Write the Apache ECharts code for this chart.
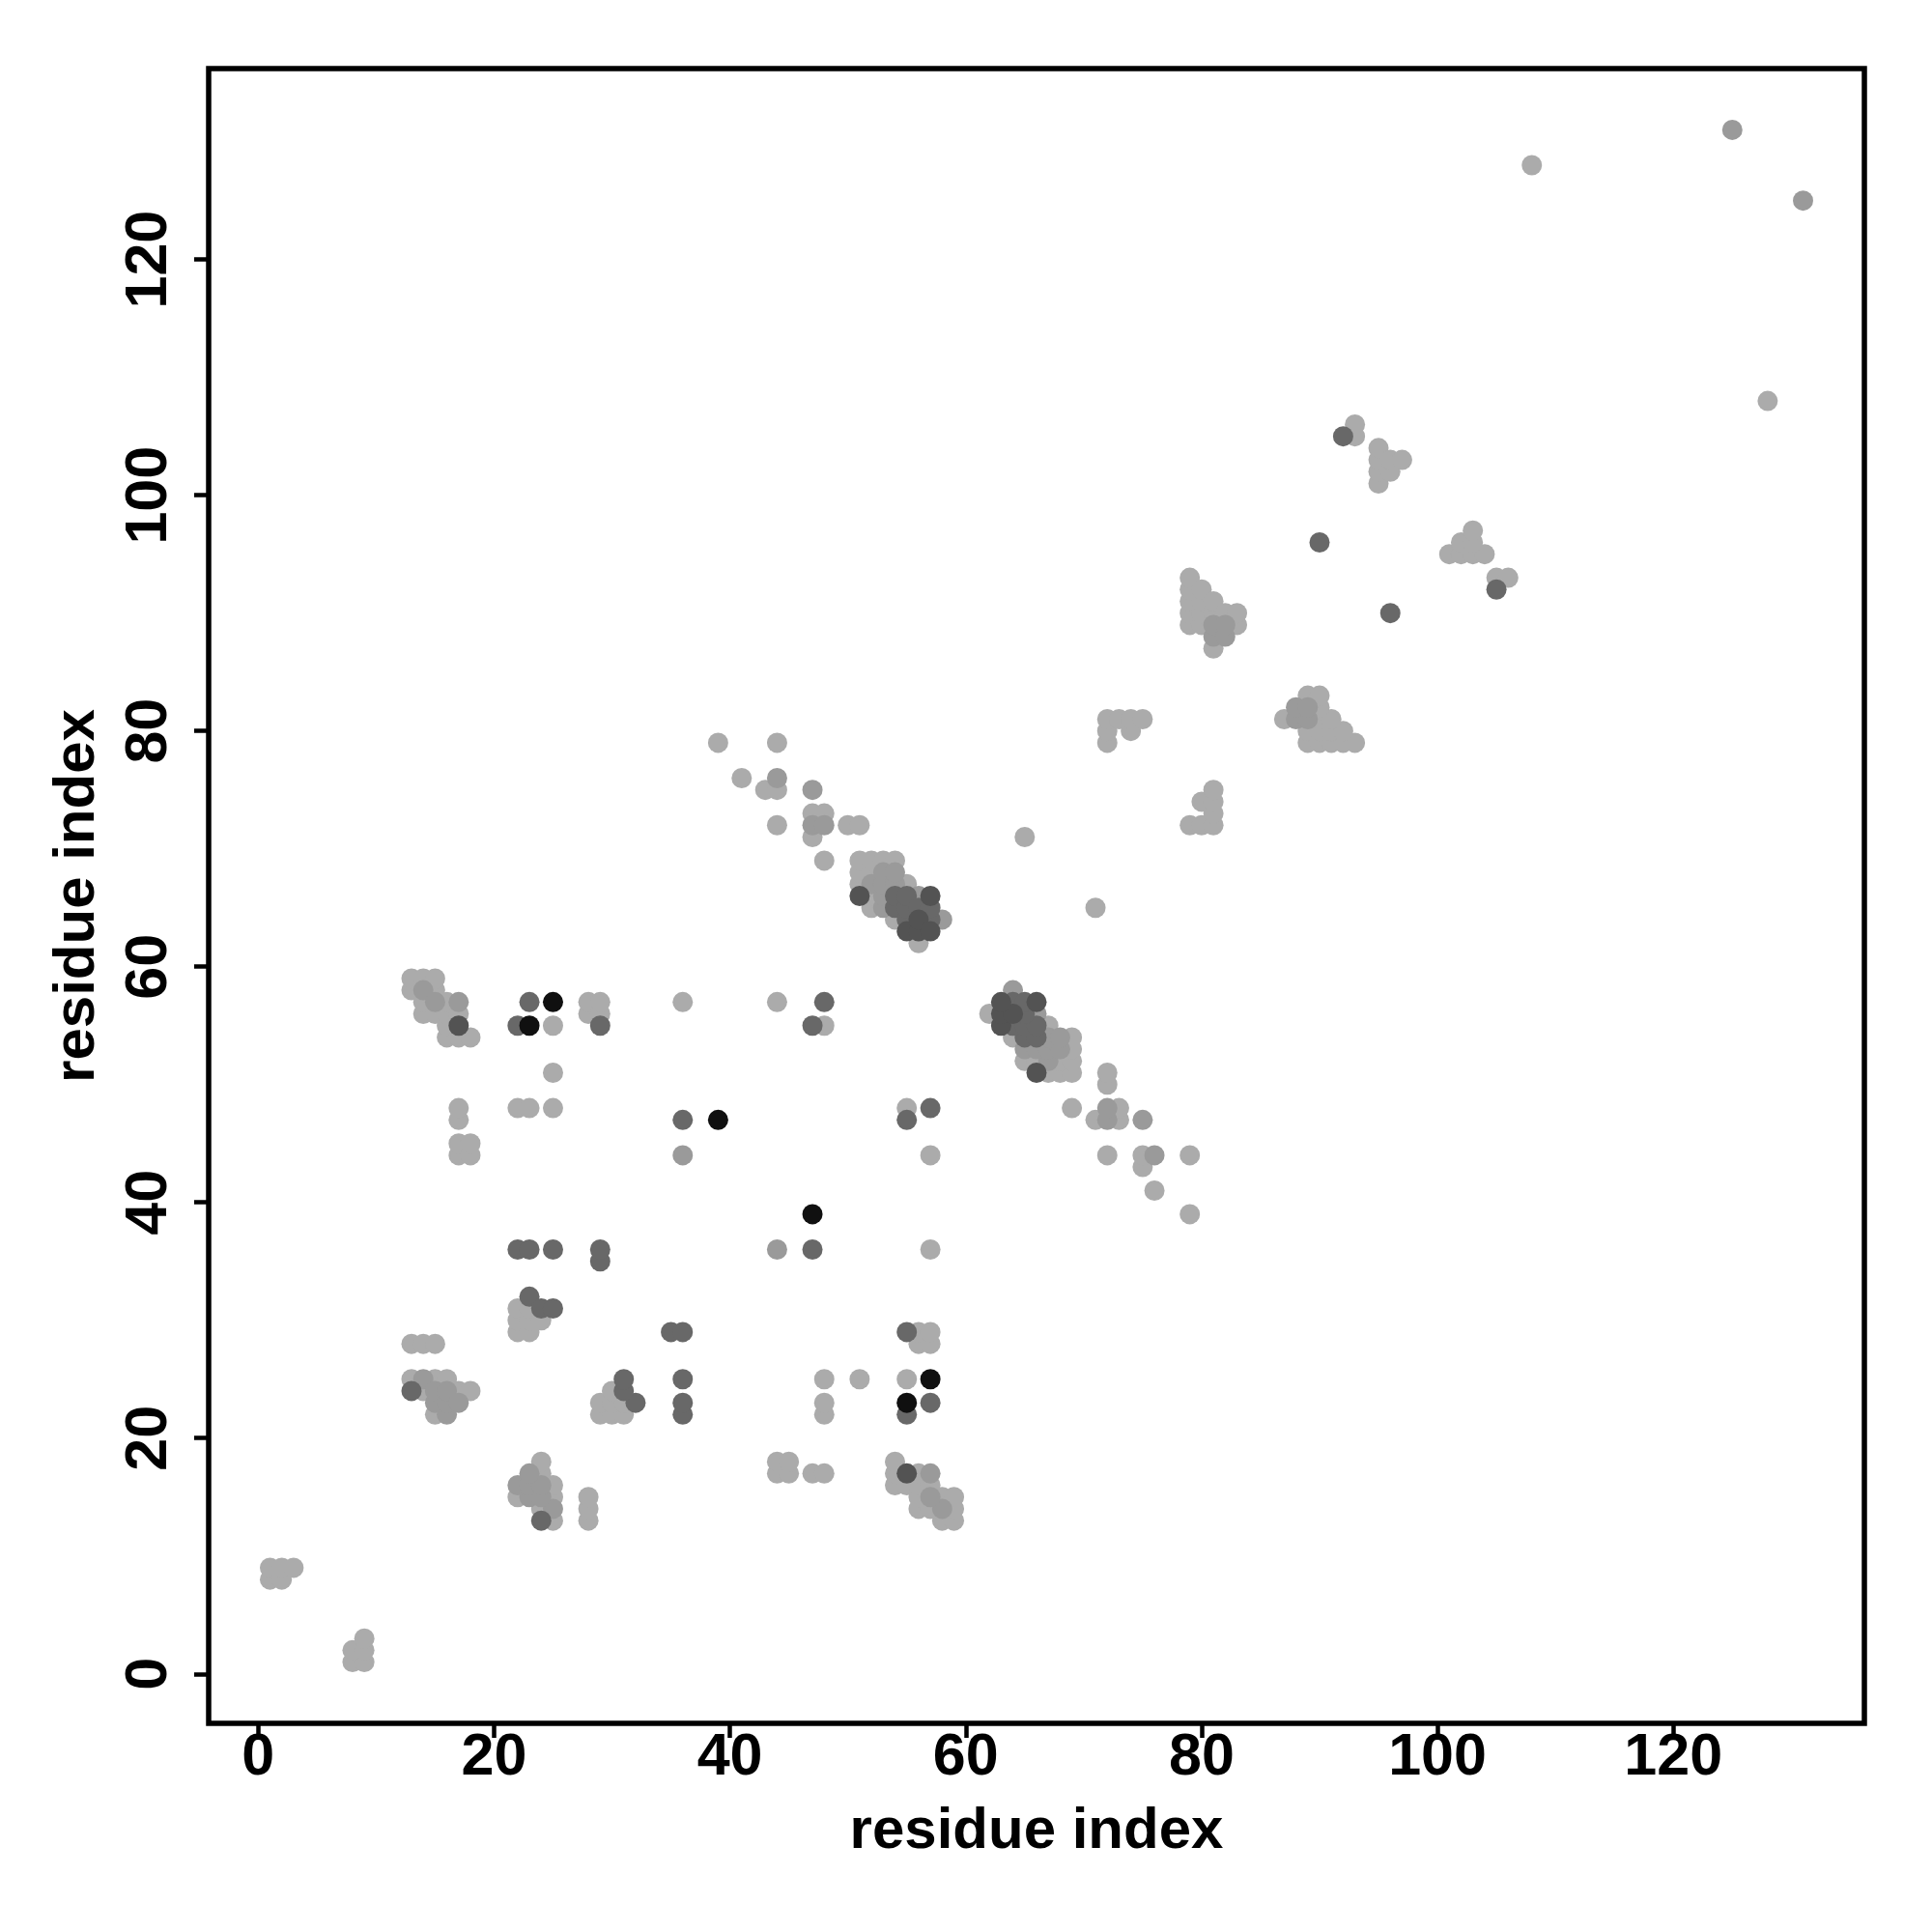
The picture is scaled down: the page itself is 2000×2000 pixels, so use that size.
<!DOCTYPE html>
<html>
<head>
<meta charset="utf-8">
<script src="https://cdn.jsdelivr.net/npm/echarts@6/dist/echarts.min.js"></script>
<style>
html,body{margin:0;padding:0;background:#fff;}
#chart{width:2000px;height:2000px;}
</style>
</head>
<body>
<div id="chart"></div>
<script>
// Contact pairs (i < j); the map is symmetric, each pair is drawn at (i,j) and (j,i)
const contactI = [
  1,1,2,2,3,
  13,13,13,14,14,14,15,15,15,15,15,16,16,16,16,17,17,18,
  13,13,14,14,14,14,15,15,15,15,16,16,16,16,17,17,17,17,18,
  17,17,17,17,18,18,
  22,22,22,23,23,23,24,23,24,25,22,23,25,
  22,23,25,25,22,23,25,23,25,
  28,28,29,29,29,29,29,
  36,36,36,39,44,47,48,48,
  39,41,43,44,44,44,44,47,47,47,47,48,48,48,50,51,
  51,51,51,51,52,52,52,52,52,53,53,53,53,53,54,54,54,54,54,54,55,55,55,55,55,56,56,56,56,56,57,57,57,57,58,
  65,72,72,72,73,74,74,75,
  79,79,79,79,79,80,80,80,80,81,81,81,81,81,82,82,82,83,83,
  90,92,93,93,95,95,95,95,96,96,97,
  108,125
];
const contactJ = [
  8,9,8,9,9,
  24,25,28,24,25,28,22,23,24,25,28,22,23,24,25,23,24,24,
  58,59,56,57,58,59,56,57,58,59,54,55,56,57,54,55,56,57,54,
  44,45,47,48,44,45,
  29,30,31,29,30,31,30,32,31,31,36,36,36,
  48,48,48,51,55,55,55,57,57,
  56,57,56,57,55,35,36,
  44,47,57,47,57,55,55,57,
  79,76,75,72,75,76,79,71,72,73,75,69,72,73,72,72,
  66,67,68,69,65,66,67,68,69,65,66,67,68,69,64,65,66,67,68,69,63,64,65,66,67,62,63,64,65,66,63,64,65,66,64,
  71,79,80,81,81,80,81,81,
  89,90,91,92,93,89,90,91,92,87,88,89,90,91,88,89,90,89,90,
  96,105,105,106,101,102,103,104,102,103,103,
  128,131
];
// grey level of each contact: 0 lightest ... 4 black
const contactLevel = [
  0,0,0,0,0,
  2,0,0,0,1,0,0,1,1,0,0,1,1,1,0,1,0,0,
  0,0,0,0,1,0,0,1,0,0,0,0,0,0,0,3,0,1,0,
  0,0,0,0,0,0,
  0,0,0,0,0,0,0,2,2,2,2,2,2,
  0,0,0,0,2,4,0,2,4,
  0,0,0,0,2,2,2,
  1,2,0,4,0,2,0,2,
  0,0,0,0,0,1,0,0,1,0,1,0,1,0,0,0,
  3,0,0,0,0,0,1,0,0,1,1,1,1,0,0,2,2,1,1,0,3,2,2,2,0,0,3,3,2,1,3,2,2,3,1,
  0,0,0,0,0,0,0,0,
  0,0,0,0,0,0,0,0,0,0,1,1,0,0,1,1,0,0,0,
  2,2,0,0,0,0,0,0,0,0,0,
  0,1
];
const levelColors = ['#ababab', '#9a9a9a', '#686868', '#535353', '#101010'];
const tickValues = [0, 20, 40, 60, 80, 100, 120];
const axisTitle = 'residue index';

const seriesList = levelColors.map(function (col, lv) {
  const pts = [];
  for (let k = 0; k < contactI.length; k++) {
    if (contactLevel[k] !== lv) continue;
    pts.push([contactI[k], contactJ[k]]);
    pts.push([contactJ[k], contactI[k]]);
  }
  return {
    type: 'scatter',
    data: pts,
    symbol: 'circle',
    symbolSize: 21,
    itemStyle: { color: col, opacity: 1 },
    emphasis: { disabled: true },
    z: 2 + lv,
    animation: false
  };
});

const font = 'Liberation Sans, Arial, Helvetica, sans-serif';
function makeAxis(isY) {
  return {
    type: 'value',
    min: -4.2,
    max: 136.2,
    axisLine: { show: false, onZero: false },
    splitLine: { show: false },
    axisTick: {
      show: true,
      inside: false,
      customValues: tickValues,
      length: 15,
      lineStyle: { color: '#000', width: 4.5 }
    },
    axisLabel: {
      customValues: tickValues,
      fontSize: 61,
      fontWeight: 'bold',
      fontFamily: font,
      color: '#000',
      margin: isY ? 30 : 6,
      rotate: isY ? 90 : 0
    },
    name: axisTitle,
    nameLocation: 'middle',
    nameGap: isY ? 106 : 82,
    nameRotate: isY ? 90 : 0,
    nameTextStyle: {
      fontSize: 60,
      fontWeight: 'bold',
      fontFamily: font,
      color: '#000'
    }
  };
}

const chart = echarts.init(document.getElementById('chart'), null, { renderer: 'canvas' });
chart.setOption({
  backgroundColor: '#ffffff',
  animation: false,
  grid: {
    left: 216, top: 71, right: 70, bottom: 216,
    show: true, borderColor: '#000', borderWidth: 5.5, backgroundColor: 'transparent'
  },
  xAxis: makeAxis(false),
  yAxis: makeAxis(true),
  series: seriesList
});
</script>
</body>
</html>
